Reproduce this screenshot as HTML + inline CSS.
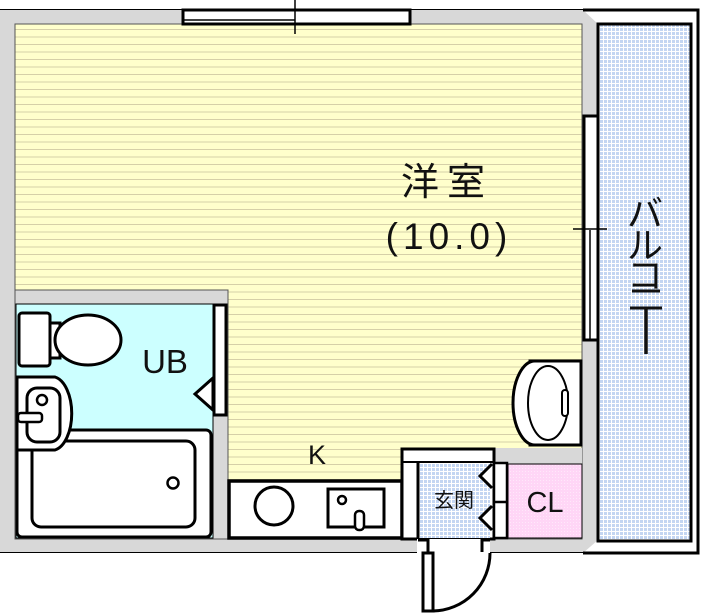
<!DOCTYPE html>
<html><head><meta charset="utf-8"><style>
html,body{margin:0;padding:0;background:#fff;width:703px;height:615px;overflow:hidden}
svg{display:block}
text{font-family:"Liberation Sans","Noto Sans CJK JP",sans-serif;fill:#111}
</style></head><body>
<svg width="703" height="615" viewBox="0 0 703 615">
<defs>
<pattern id="yl" width="8" height="7.5" patternUnits="userSpaceOnUse">
<rect width="8" height="7.5" fill="#ffffcc"/><rect y="6.5" width="8" height="1" fill="#d6d0a8"/></pattern>
<pattern id="bl" width="4" height="4" patternUnits="userSpaceOnUse">
<rect width="4" height="4" fill="#fff"/><rect width="3" height="3" fill="#c4d6f2"/></pattern>
<pattern id="pk" width="3" height="3" patternUnits="userSpaceOnUse">
<rect width="3" height="3" fill="#ffd6f6"/><rect width="1" height="1" fill="#ffe8fa"/></pattern>
</defs>
<rect x="0" y="9" width="583" height="544" fill="#d8d8d8"/>
<line x1="0" y1="9.5" x2="583" y2="9.5" stroke="#000"/>
<line x1="0" y1="552.5" x2="420" y2="552.5" stroke="#000"/>
<line x1="490" y1="552.5" x2="583" y2="552.5" stroke="#000"/>
<rect x="15" y="24" width="567" height="515" fill="url(#yl)" stroke="#555" stroke-width="1"/>
<rect x="15" y="290" width="213" height="249" fill="#d8d8d8" stroke="#555" stroke-width="1"/>
<rect x="16" y="304" width="197" height="234" fill="#ccffff" stroke="#000" stroke-width="1"/>
<rect x="19" y="313" width="31" height="53" rx="3" fill="#fff" stroke="#000" stroke-width="3"/>
<rect x="50" y="323" width="10" height="35" fill="#fff" stroke="#000" stroke-width="3"/>
<ellipse cx="88" cy="340" rx="33" ry="25" fill="#fff" stroke="#000" stroke-width="3"/>
<rect x="17" y="430" width="194" height="107" rx="5" fill="#fff" stroke="#000" stroke-width="3"/>
<rect x="32" y="441" width="163" height="86" rx="9" fill="#fff" stroke="#000" stroke-width="3"/>
<circle cx="173" cy="483" r="5.5" fill="#fff" stroke="#000" stroke-width="2.5"/>
<path d="M17 377 H55 A20 37 0 0 1 55 450 H17 Z" fill="#fff" stroke="#000" stroke-width="3"/>
<rect x="27" y="388" width="33" height="54" rx="10" fill="#fff" stroke="#000" stroke-width="3"/>
<circle cx="42" cy="400" r="5" fill="#fff" stroke="#000" stroke-width="2.5"/>
<rect x="18" y="413" width="24" height="9" rx="3" fill="#fff" stroke="#000" stroke-width="2.5"/>
<rect x="214" y="305" width="12" height="110" fill="#fff" stroke="#000" stroke-width="3"/>
<path d="M213 378 L195 394 L213 410 Z" fill="#fff" stroke="#000" stroke-width="3"/>
<text x="165" y="373" font-size="33" text-anchor="middle">UB</text>
<rect x="229" y="481" width="173" height="57" fill="#fff" stroke="#000" stroke-width="3.5"/>
<circle cx="274" cy="506" r="19" fill="#fff" stroke="#000" stroke-width="3"/>
<rect x="328" y="489" width="56" height="38" fill="#fff" stroke="#000" stroke-width="3"/>
<circle cx="342" cy="500" r="4" fill="#fff" stroke="#000" stroke-width="2.5"/>
<rect x="355" y="511" width="9" height="19" rx="4" fill="#fff" stroke="#000" stroke-width="2.5"/>
<text x="317" y="464" font-size="27" text-anchor="middle">K</text>
<rect x="494" y="448" width="88" height="16" fill="#d8d8d8"/>
<rect x="402" y="449" width="92" height="90" fill="#fff" stroke="#000" stroke-width="3"/>
<rect x="418" y="462" width="72" height="76" fill="url(#bl)"/>
<line x1="418" y1="462" x2="418" y2="538" stroke="#000" stroke-width="3"/>
<line x1="402" y1="462" x2="494" y2="462" stroke="#000" stroke-width="2"/>
<rect x="494" y="463" width="13" height="75" fill="#fff" stroke="#000" stroke-width="2.5"/>
<line x1="494" y1="502" x2="507" y2="502" stroke="#000" stroke-width="2.5"/>
<path d="M492 464 L480 476 L492 488" fill="#fff" stroke="#000" stroke-width="3"/>
<path d="M492 506 L480 518 L492 530" fill="#fff" stroke="#000" stroke-width="3"/>
<rect x="508" y="464" width="74" height="74" fill="url(#pk)" stroke="#000" stroke-width="1"/>
<text x="454" y="507" font-size="20" text-anchor="middle">玄関</text>
<text x="545" y="512" font-size="29" text-anchor="middle">CL</text>
<rect x="417" y="539" width="73" height="14" fill="#fff"/>
<path d="M418 540 H428 V552 M490 540 H482 V552" fill="none" stroke="#000" stroke-width="3"/>
<rect x="423" y="553" width="10" height="58" fill="#fff" stroke="#000" stroke-width="3"/>
<path d="M433 611 A58 58 0 0 0 490 553" fill="none" stroke="#000" stroke-width="3"/>
<rect x="530" y="361" width="51" height="84" fill="#fff" stroke="#000" stroke-width="3"/>
<path d="M535 361 A22 42 0 0 0 535 445" fill="#fff" stroke="#000" stroke-width="3"/>
<ellipse cx="548" cy="403" rx="20" ry="37" fill="#fff" stroke="#000" stroke-width="2"/>
<rect x="562" y="390" width="6" height="26" rx="3" fill="#fff" stroke="#000" stroke-width="2"/>
<rect x="183" y="10" width="227" height="14" fill="#fff" stroke="#000" stroke-width="3"/>
<line x1="184" y1="20" x2="295" y2="20" stroke="#000" stroke-width="1.5"/>
<line x1="295" y1="0" x2="295" y2="34" stroke="#000" stroke-width="1.5"/>
<rect x="583" y="10" width="117" height="543" fill="#fff"/>
<path d="M583 10 L598 24 V540 L583 553 Z" fill="#d8d8d8"/>
<rect x="598" y="24" width="93" height="517" fill="url(#bl)" stroke="#000" stroke-width="3"/>
<path d="M583 10 H698 V553 H583" fill="none" stroke="#000" stroke-width="3"/>
<rect x="584" y="116" width="14" height="224" fill="#fff" stroke="#000" stroke-width="3"/>
<line x1="590" y1="230" x2="590" y2="340" stroke="#000" stroke-width="1.5"/>
<line x1="573" y1="229" x2="607" y2="229" stroke="#000" stroke-width="1.5"/>
<text x="447" y="195" font-size="38" text-anchor="middle" letter-spacing="8">洋室</text>
<text x="449" y="249" font-size="37" text-anchor="middle" letter-spacing="5">(10.0)</text>
<text x="645" y="226" font-size="36" text-anchor="middle">バ</text>
<text x="645" y="258" font-size="36" text-anchor="middle">ル</text>
<text x="645" y="288" font-size="36" text-anchor="middle">コ</text>
<line x1="632" y1="291" x2="660" y2="291" stroke="#111" stroke-width="3"/>
<line x1="630" y1="308" x2="662" y2="308" stroke="#111" stroke-width="3"/>
<line x1="646" y1="308" x2="646" y2="354" stroke="#111" stroke-width="3.5"/>
</svg>
</body></html>
